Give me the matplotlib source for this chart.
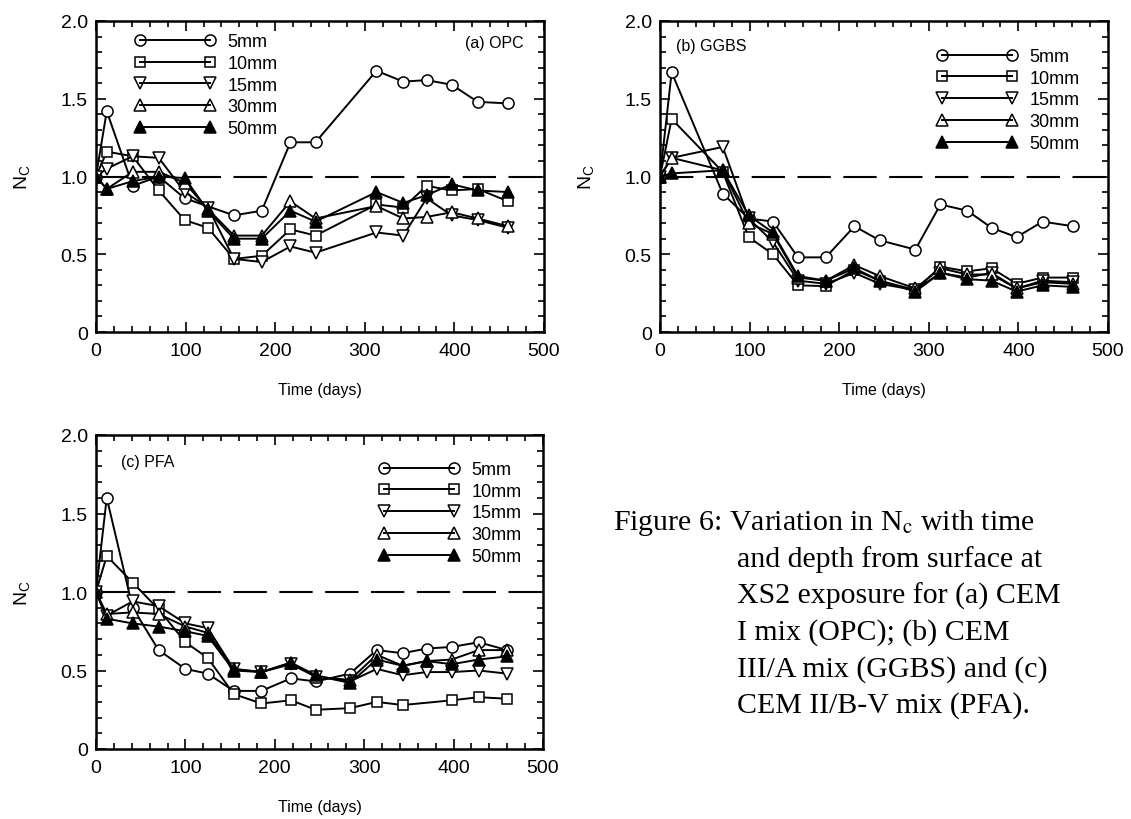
import numpy as np
import matplotlib
matplotlib.use('Agg')
import matplotlib.pyplot as plt
from matplotlib.lines import Line2D
from matplotlib.ticker import MultipleLocator, FixedLocator, FixedFormatter

plt.rcParams['font.family'] = ['Liberation Sans', 'DejaVu Sans']
plt.rcParams['mathtext.fontset'] = 'custom'
plt.rcParams['mathtext.rm'] = 'Liberation Sans'

nan = np.nan
depths = ['5mm', '10mm', '15mm', '30mm', '50mm']

# (a) OPC
days_a = [0, 12, 41, 70, 99, 125, 154, 185, 217, 245, 313, 343, 369, 397, 426, 460]
opc_5 = [1.0, 1.42, 0.94, 1.0, 0.86, nan, 0.75, 0.78, 1.22, 1.22, 1.68, 1.61, 1.62, 1.59, 1.48, 1.47]
opc_10 = [1.0, 1.16, 1.13, 0.91, 0.72, 0.67, 0.47, 0.49, 0.66, 0.62, 0.82, 0.80, 0.94, 0.91, 0.92, 0.84]
opc_15 = [1.0, 1.05, 1.13, 1.12, 0.90, 0.80, 0.47, 0.45, 0.55, 0.51, 0.64, 0.62, 0.86, 0.75, 0.72, 0.67]
opc_30 = [1.0, 0.92, 1.03, 1.03, 0.96, 0.79, 0.62, 0.62, 0.84, 0.73, 0.81, 0.73, 0.74, 0.77, 0.73, 0.68]
opc_50 = [1.0, 0.92, 0.97, 1.0, 0.99, 0.78, 0.60, 0.60, 0.78, 0.71, 0.90, 0.83, 0.88, 0.95, 0.91, 0.90]

# (b) GGBS
days_b = [0, 13, 70, 99, 126, 154, 185, 217, 245, 285, 313, 343, 370, 398, 427, 461]
ggbs_5 = [1.0, 1.67, 0.89, 0.73, 0.71, 0.48, 0.48, 0.68, 0.59, 0.53, 0.82, 0.78, 0.67, 0.61, 0.71, 0.68]
ggbs_10 = [1.0, 1.37, 1.03, 0.61, 0.50, 0.30, 0.295, 0.40, 0.33, 0.27, 0.42, 0.39, 0.41, 0.31, 0.35, 0.35]
ggbs_15 = [1.0, 1.12, 1.19, 0.73, 0.58, 0.33, 0.31, 0.38, 0.31, 0.27, 0.38, 0.35, 0.38, 0.28, 0.33, 0.32]
ggbs_30 = [1.0, 1.12, 1.04, 0.70, 0.63, 0.35, 0.33, 0.43, 0.36, 0.28, 0.41, 0.37, 0.37, 0.28, 0.32, 0.31]
ggbs_50 = [1.0, 1.02, 1.04, 0.75, 0.64, 0.36, 0.33, 0.41, 0.33, 0.26, 0.38, 0.34, 0.33, 0.26, 0.30, 0.29]

# (c) PFA
days_c = [0, 12, 41, 70, 100, 125, 154, 185, 218, 246, 284, 314, 343, 370, 398, 428, 460]
pfa_5 = [1.0, 1.60, 0.90, 0.63, 0.51, 0.48, 0.37, 0.37, 0.45, 0.43, 0.48, 0.63, 0.61, 0.64, 0.65, 0.68, 0.63]
pfa_10 = [1.0, 1.23, 1.06, 0.89, 0.68, 0.58, 0.35, 0.29, 0.31, 0.25, 0.26, 0.30, 0.28, nan, 0.31, 0.33, 0.32]
pfa_15 = [1.0, 0.85, 0.94, 0.91, 0.80, 0.77, 0.51, 0.49, 0.54, 0.46, 0.43, 0.51, 0.47, 0.49, 0.49, 0.50, 0.48]
pfa_30 = [1.0, 0.86, 0.87, 0.86, 0.78, 0.74, 0.51, 0.49, 0.55, 0.46, 0.44, 0.60, 0.53, 0.56, 0.57, 0.63, 0.63]
pfa_50 = [1.0, 0.83, 0.80, 0.78, 0.75, 0.72, 0.50, 0.49, 0.55, 0.47, 0.42, 0.57, 0.53, 0.56, 0.54, 0.57, 0.59]

panels = [
    ('(a) OPC', days_a, [opc_5, opc_10, opc_15, opc_30, opc_50]),
    ('(b) GGBS', days_b, [ggbs_5, ggbs_10, ggbs_15, ggbs_30, ggbs_50]),
    ('(c) PFA', days_c, [pfa_5, pfa_10, pfa_15, pfa_30, pfa_50]),
]

markers = ['o', 's', 'v', '^', '^']
faces = ['white', 'white', 'white', 'white', 'black']
sizes = [8, 7.5, 8, 8, 8]

fig = plt.figure(figsize=(11.31, 8.2), dpi=100)
rects = [
    [96 / 1131, 1 - 333 / 820, 448 / 1131, 311 / 820],
    [660 / 1131, 1 - 333 / 820, 448 / 1131, 311 / 820],
    [96 / 1131, 1 - 750 / 820, 447 / 1131, 314 / 820],
]
title_pos = [(0.955, 0.93, 'right'), (0.035, 0.92, 'left'), (0.055, 0.915, 'left')]
legend_pos = [(0.087, 0.961), (0.618, 0.913), (0.633, 0.917)]

for (title, days, series), rect, tp, lp in zip(panels, rects, title_pos, legend_pos):
    ax = fig.add_axes(rect)
    x = np.array(days, dtype=float)
    ax.axhline(1.0, color='black', lw=1.5, dashes=(16, 6), zorder=1)
    for vals, m, fc, ms in zip(series, markers, faces, sizes):
        y = np.array(vals, dtype=float)
        ok = ~np.isnan(y)
        ax.plot(x[ok], y[ok], color='black', lw=1.4, marker=m, ms=ms,
                mfc=fc, mec='black', mew=1.1, zorder=3)
    ax.set_xlim(0, 500)
    ax.set_ylim(0, 2.0)
    ax.xaxis.set_major_locator(MultipleLocator(100))
    ax.xaxis.set_minor_locator(MultipleLocator(20))
    ax.yaxis.set_major_locator(FixedLocator([0, 0.5, 1.0, 1.5, 2.0]))
    ax.yaxis.set_major_formatter(FixedFormatter(['0', '0.5', '1.0', '1.5', '2.0']))
    ax.yaxis.set_minor_locator(MultipleLocator(0.1))
    ax.tick_params(which='both', direction='in', top=True, right=True, width=1.2)
    ax.tick_params(which='major', length=7)
    ax.tick_params(which='minor', length=4.5)
    ax.tick_params(axis='y', which='major', labelsize=14, pad=6)
    ax.tick_params(axis='x', which='major', labelsize=14, pad=7)
    for s in ax.spines.values():
        s.set_linewidth(1.8)
    ax.set_xlabel('Time (days)', fontsize=11.5, labelpad=17)
    ax.set_ylabel(r'N$_\mathrm{C}$', fontsize=14, labelpad=20)
    ax.text(tp[0], tp[1], title, transform=ax.transAxes, ha=tp[2], va='center', fontsize=11.5)

    handles = [Line2D([], [], color='black', lw=1.4, marker=m, ms=ms,
                      mfc=('none' if fc == 'white' else 'black'), mec='black', mew=1.1)
               for m, fc, ms in zip(markers, faces, sizes)]
    ax.legend(handles, depths, loc='upper left', bbox_to_anchor=lp, frameon=False,
              fontsize=13, numpoints=2, handlelength=4.45, handletextpad=0.67,
              labelspacing=0.26, borderpad=0, borderaxespad=0)

caption = [
    'Figure 6: Variation in N$_{\\mathrm{c}}$ with time',
    'and depth from surface at',
    'XS2 exposure for (a) CEM',
    'I mix (OPC); (b) CEM',
    'III/A mix (GGBS) and (c)',
    'CEM II/B-V mix (PFA).',
]
for i, line in enumerate(caption):
    xpix = 613 if i == 0 else 737
    fig.text(xpix / 1131, 1 - (523 + i * 36.6) / 820, line, ha='left', va='center',
             fontsize=21.5, family='Liberation Serif', math_fontfamily='stix')

plt.savefig('out.png', dpi=100)
plt.close()
